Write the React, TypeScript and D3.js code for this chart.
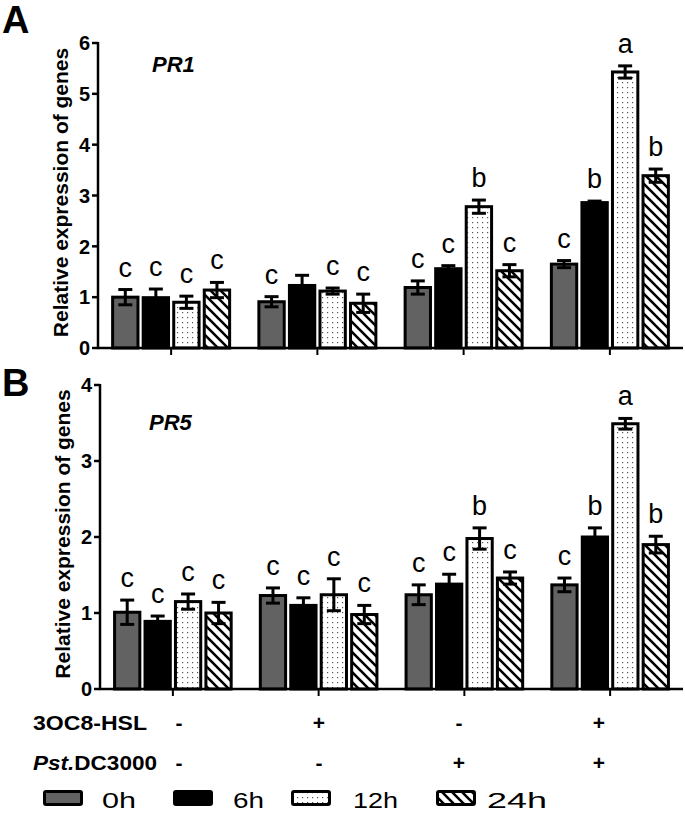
import React from 'react';
import * as d3 from 'd3';

const groups = ['g1', 'g2', 'g3', 'g4'];
const series = ['0h', '6h', '12h', '24h'];

const pr1Values = [
  [1.0, 0.99, 0.9, 1.14],
  [0.91, 1.23, 1.12, 0.88],
  [1.19, 1.56, 2.78, 1.52],
  [1.65, 2.86, 5.43, 3.39],
];
const pr1Errors = [
  [0.15, 0.17, 0.12, 0.15],
  [0.1, 0.2, 0.06, 0.18],
  [0.13, 0.06, 0.13, 0.12],
  [0.07, 0.03, 0.12, 0.13],
];
const pr1Letters = [
  ['c', 'c', 'c', 'c'],
  ['c', '', 'c', 'c'],
  ['c', 'c', 'b', 'c'],
  ['c', 'b', 'a', 'b'],
];

const pr5Values = [
  [1.01, 0.89, 1.15, 1.0],
  [1.23, 1.1, 1.24, 0.98],
  [1.24, 1.38, 1.98, 1.46],
  [1.37, 2.0, 3.49, 1.9],
];
const pr5Errors = [
  [0.16, 0.07, 0.1, 0.14],
  [0.1, 0.1, 0.21, 0.12],
  [0.13, 0.13, 0.14, 0.08],
  [0.09, 0.12, 0.07, 0.11],
];
const pr5Letters = [
  ['c', 'c', 'c', 'c'],
  ['c', 'c', 'c', 'c'],
  ['c', 'c', 'b', 'c'],
  ['c', 'b', 'a', 'b'],
];

const hslRow = ['-', '+', '-', '+'];
const pstRow = ['-', '-', '+', '+'];
const pr1Ticks = [0, 1, 2, 3, 4, 5, 6];
const pr5Ticks = [0, 1, 2, 3, 4];

const FONT = 'Arial, "Liberation Sans", Helvetica, sans-serif';
const fills = ['#626262', '#000000', 'url(#dots)', 'url(#hatch)'];

type PanelProps = {
  values: number[][];
  errors: number[][];
  letters: string[][];
  ticks: number[];
  yMax: number;
  top: number;
  bottom: number;
  left: number;
  right: number;
  gene: string;
  geneX: number;
  geneY: number;
  titleX: number;
  tag: string;
  tagY: number;
  tagSize: number;
};

function Panel(p: PanelProps) {
  const y = d3.scaleLinear().domain([0, p.yMax]).range([p.bottom, p.top]);
  const x = d3.scaleBand().domain(groups).range([p.left, p.right]).padding(0);
  const half = x.bandwidth() * 0.4;
  const inner = d3.scaleBand().domain(series).range([-half, half]).paddingInner(0.17);
  const bw = inner.bandwidth();
  const capW = 14;
  return (
    <g>
      <text x={2} y={p.tagY} fontFamily={FONT} fontWeight="bold" fontSize={p.tagSize}>{p.tag}</text>
      <text
        transform={`translate(${p.titleX},${(p.top + p.bottom) / 2 - 3}) rotate(-90)`}
        textAnchor="middle"
        fontFamily={FONT}
        fontWeight="bold"
        fontSize={21}
      >
        Relative expression of genes
      </text>
      <text x={p.geneX} y={p.geneY} fontFamily={FONT} fontWeight="bold" fontStyle="italic" fontSize={22}>
        {p.gene}
      </text>
      {groups.map((g, gi) => (
        <g key={g}>
          {series.map((s, si) => {
            const cx = (x(g) as number) + x.bandwidth() / 2 + (inner(s) as number) + bw / 2;
            const v = p.values[gi][si];
            const e = p.errors[gi][si];
            return (
              <g key={s}>
                <rect
                  x={cx - bw / 2}
                  y={y(v)}
                  width={bw}
                  height={y(0) - y(v)}
                  fill={fills[si]}
                  stroke="#000"
                  strokeWidth={3}
                />
                <line x1={cx} x2={cx} y1={y(v - e)} y2={y(v + e)} stroke="#000" strokeWidth={3} />
                <line x1={cx - capW / 2} x2={cx + capW / 2} y1={y(v + e)} y2={y(v + e)} stroke="#000" strokeWidth={3} />
                <line x1={cx - capW / 2} x2={cx + capW / 2} y1={y(v - e)} y2={y(v - e)} stroke="#000" strokeWidth={3} />
                {p.letters[gi][si] && (
                  <text x={cx} y={y(v + e) - 13} textAnchor="middle" fontFamily={FONT} fontSize={27}>
                    {p.letters[gi][si]}
                  </text>
                )}
              </g>
            );
          })}
        </g>
      ))}
      <line x1={p.left} x2={p.left} y1={p.top - 1} y2={p.bottom + 1} stroke="#000" strokeWidth={2.5} />
      <line x1={p.left - 1} x2={p.right} y1={p.bottom} y2={p.bottom} stroke="#000" strokeWidth={2.5} />
      {p.ticks.map((t) => (
        <g key={t}>
          <line x1={p.left - 6} x2={p.left} y1={y(t)} y2={y(t)} stroke="#000" strokeWidth={2.5} />
          <text
            x={p.left - 8}
            y={y(t)}
            dy="0.36em"
            textAnchor="end"
            fontFamily={FONT}
            fontWeight="bold"
            fontSize={20}
          >
            {t}
          </text>
        </g>
      ))}
      {groups.map((g) => (
        <line
          key={g}
          x1={(x(g) as number) + x.bandwidth() / 2}
          x2={(x(g) as number) + x.bandwidth() / 2}
          y1={p.bottom}
          y2={p.bottom + 7}
          stroke="#000"
          strokeWidth={2}
        />
      ))}
    </g>
  );
}

export default function App() {
  const signX = d3.scalePoint().domain(groups).range([179, 599]);
  const legendSwatchX = [43, 173, 291, 436];
  const legendTextX = [102, 233, 353, 487];
  const legendTextW = [34, 31, 45, 60];
  return (
    <svg
      width={685}
      height={815}
      style={{ position: 'absolute', left: 0, top: 0, background: '#fff' }}
    >
      <defs>
        <pattern id="dots" patternUnits="userSpaceOnUse" width={5} height={5}>
          <rect width={5} height={5} fill="#fff" />
          <rect x={2} y={2} width={1.2} height={1.2} fill="#555" />
        </pattern>
        <pattern id="hatch" patternUnits="userSpaceOnUse" width={10} height={10}>
          <rect width={10} height={10} fill="#fff" />
          <path d="M0,0 L10,10 M-5,5 L5,15 M5,-5 L15,5" stroke="#000" strokeWidth={2.6} />
        </pattern>
      </defs>
      <Panel
        values={pr1Values}
        errors={pr1Errors}
        letters={pr1Letters}
        ticks={pr1Ticks}
        yMax={6}
        top={43}
        bottom={348}
        left={98}
        right={683}
        gene="PR1"
        geneX={152}
        geneY={72}
        titleX={68}
        tag="A"
        tagY={33}
        tagSize={38}
      />
      <Panel
        values={pr5Values}
        errors={pr5Errors}
        letters={pr5Letters}
        ticks={pr5Ticks}
        yMax={4}
        top={385}
        bottom={689}
        left={100}
        right={683}
        gene="PR5"
        geneX={149}
        geneY={430}
        titleX={70}
        tag="B"
        tagY={396}
        tagSize={38}
      />
      <text x={33} y={730} fontFamily={FONT} fontWeight="bold" fontSize={21} textLength={114} lengthAdjust="spacingAndGlyphs">
        3OC8-HSL
      </text>
      <text x={33} y={770} fontFamily={FONT} fontWeight="bold" fontSize={21} textLength={124} lengthAdjust="spacingAndGlyphs">
        <tspan fontStyle="italic">Pst.</tspan>
        <tspan>DC3000</tspan>
      </text>
      {groups.map((g, i) => (
        <g key={g}>
          <text x={signX(g)} y={730} textAnchor="middle" fontFamily={FONT} fontWeight="bold" fontSize={21}>
            {hslRow[i]}
          </text>
          <text x={signX(g)} y={770} textAnchor="middle" fontFamily={FONT} fontWeight="bold" fontSize={21}>
            {pstRow[i]}
          </text>
        </g>
      ))}
      {series.map((s, i) => (
        <g key={s}>
          <rect
            x={legendSwatchX[i] + 1.5}
            y={791.5}
            width={37}
            height={13}
            rx={1.5}
            fill={fills[i]}
            stroke="#000"
            strokeWidth={3}
          />
          <text
            x={legendTextX[i]}
            y={808}
            fontFamily={FONT}
            fontSize={22}
            textLength={legendTextW[i]}
            lengthAdjust="spacingAndGlyphs"
          >
            {s}
          </text>
        </g>
      ))}
    </svg>
  );
}
